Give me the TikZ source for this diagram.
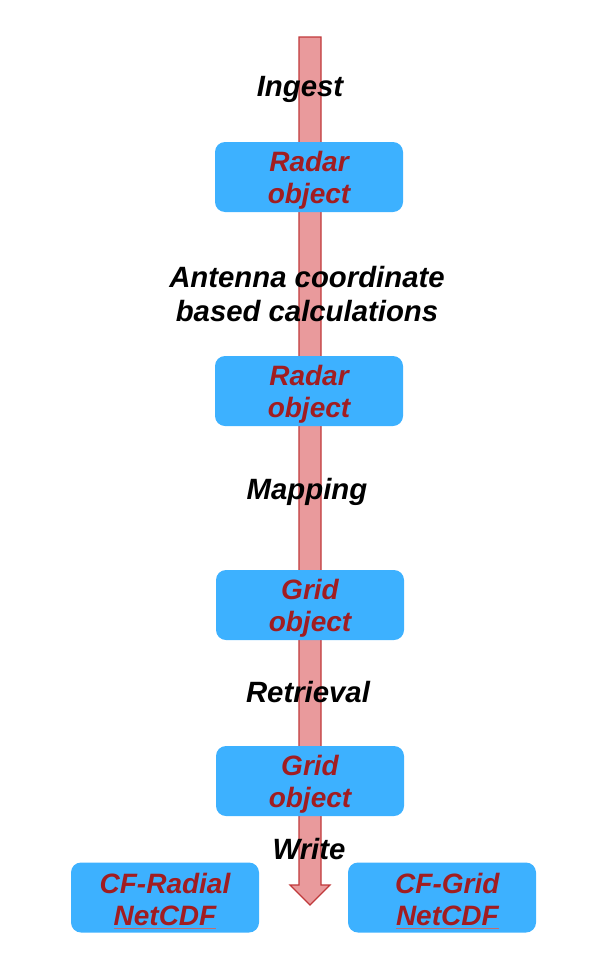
\documentclass[tikz,border=0pt]{standalone}
\usepackage{fontspec}
\setmainfont{Liberation Sans}
\usetikzlibrary{positioning, calc}
\definecolor{boxBlue}{HTML}{3DB1FF}
\definecolor{textRed}{HTML}{A11D21}
\definecolor{arrowPink}{HTML}{E99A9C}
\definecolor{arrowEdge}{HTML}{C0393B}
\def\shaftW{11}
\def\headW{20}
\def\headL{20}
\newcommand{\bigfont}{\fontsize{22}{25}\selectfont\bfseries\itshape}
\newcommand{\boxfont}{\fontsize{21}{24.5}\selectfont\bfseries\itshape}
\newcommand{\topstrut}{\rule{0pt}{20pt}}
\newcommand{\spellline}[1]{\setbox0\hbox{#1}\rlap{\color{textRed!65}\rule[-2pt]{\wd0}{0.4pt}}\box0}
\begin{document}
\begin{tikzpicture}[
    x=0.75pt, y=-0.75pt,
    objbox/.style={fill=boxBlue, rounded corners=7.5pt, minimum width=141pt,
        minimum height=52.5pt, inner sep=0pt, align=center, text=textRed, font=\boxfont},
    steplabel/.style={inner sep=0pt, align=center, text=black, font=\bigfont},
    flowarrow/.style={fill=arrowPink, draw=arrowEdge, line width=0.9pt, line join=miter}
]
\useasboundingbox (0,0) rectangle (596,953);
\coordinate (top) at (310,37);
\coordinate (tip) at (310,905);

% the big arrow behind the boxes
\draw[flowarrow] ($(top)+(-\shaftW,0)$) -- ($(tip)+(-\shaftW,-\headL)$)
    -- ($(tip)+(-\headW,-\headL)$) -- (tip) -- ($(tip)+(\headW,-\headL)$)
    -- ($(tip)+(\shaftW,-\headL)$) -- ($(top)+(\shaftW,0)$) -- cycle;

\node[objbox] (radar1) at (309,177) {\topstrut Radar\\object};
\node[objbox] (radar2) at (309,391) {\topstrut Radar\\object};
\node[objbox] (grid1) at (310,605) {\topstrut Grid\\object};
\node[objbox] (grid2) at (310,781) {\topstrut Grid\\object};
\node[objbox] (cfradial) at (165,897.5) {\topstrut CF-Radial\\\spellline{NetCDF}};
\node[objbox] (cfgrid) at (442,897.5) {\topstrut\hspace{8pt}CF-Grid\\\hspace{8pt}\spellline{NetCDF}};

\node[steplabel] (ingest) at (300,89) {Ingest};
\node[steplabel] (antenna) at (307,294) {Antenna coordinate\\based calculations};
\node[steplabel] (mapping) at (307,492) {Mapping};
\node[steplabel] (retrieval) at (308,692) {Retrieval};
\node[steplabel] (write) at (309,849) {Write};
\end{tikzpicture}
\end{document}
